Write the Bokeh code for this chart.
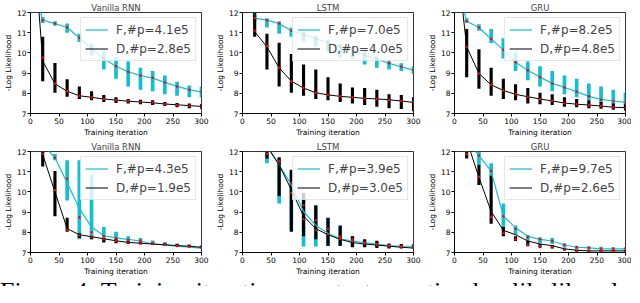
from bokeh.plotting import figure
from bokeh.models import Range1d, FixedTicker, Legend, LegendItem, Div
from bokeh.layouts import column, row
from bokeh.embed import file_html
from bokeh.resources import INLINE

# ---------------- data ----------------
iters = [21.4, 42.9, 64.3, 85.7, 107.1, 128.6, 150.0, 171.4, 192.9, 214.3, 235.7, 257.1, 278.6, 300.0]
line_iters = [0.0] + iters
x_ticks = [0, 50, 100, 150, 200, 250, 300]
y_ticks = [7, 8, 9, 10, 11, 12]

titles = ["Vanilla RNN", "LSTM", "GRU", "Vanilla RNN", "LSTM", "GRU"]
f_labels = ["F,#p=4.1e5", "F,#p=7.0e5", "F,#p=8.2e5", "F,#p=4.3e5", "F,#p=3.9e5", "F,#p=9.7e5"]
d_labels = ["D,#p=2.8e5", "D,#p=4.0e5", "D,#p=4.8e5", "D,#p=1.9e5", "D,#p=3.0e5", "D,#p=2.6e5"]

# Panel 1: Vanilla RNN (top)
rnn1_f_line = [13.8, 11.62, 11.45, 11.26, 10.75, 10.22, 9.72, 9.34, 9.06, 8.88, 8.75, 8.54, 8.34, 8.18, 8.06]
rnn1_f_med = [11.62, 11.45, 11.26, 10.75, 10.22, 9.72, 9.34, 9.06, 8.88, 8.77, 8.54, 8.34, 8.18, 8.08]
rnn1_f_lo = [11.48, 11.34, 11.0, 10.54, 9.88, 9.18, 8.72, 8.34, 8.18, 8.1, 7.95, 7.88, 7.8, 7.8]
rnn1_f_hi = [11.78, 11.57, 11.46, 10.95, 10.45, 10.1, 9.8, 9.57, 9.26, 9.1, 8.88, 8.57, 8.38, 8.34]
rnn1_d_line = [17.6, 9.6, 8.47, 8.1, 7.88, 7.8, 7.72, 7.66, 7.61, 7.57, 7.53, 7.47, 7.43, 7.39, 7.35]
rnn1_d_med = [9.77, 8.49, 8.1, 7.88, 7.8, 7.72, 7.65, 7.62, 7.57, 7.54, 7.46, 7.42, 7.38, 7.34]
rnn1_d_lo = [8.6, 8.03, 7.83, 7.72, 7.65, 7.57, 7.52, 7.49, 7.46, 7.42, 7.37, 7.31, 7.26, 7.23]
rnn1_d_hi = [10.8, 9.5, 8.69, 8.34, 8.1, 7.92, 7.8, 7.72, 7.68, 7.65, 7.57, 7.52, 7.49, 7.46]

# Panel 2: LSTM (top)
lstm1_f_line = [30.0, 11.72, 11.62, 11.45, 11.1, 10.9, 10.7, 10.5, 10.3, 10.1, 9.88, 9.68, 9.49, 9.31, 9.15]
lstm1_f_med = [11.72, 11.62, 11.45, 11.1, 10.9, 10.7, 10.5, 10.3, 10.1, 9.88, 9.68, 9.49, 9.31, 9.15]
lstm1_f_lo = [11.57, 11.26, 10.95, 10.8, 10.55, 10.3, 10.05, 9.75, 9.72, 9.42, 9.26, 9.18, 9.1, 8.95]
lstm1_f_hi = [11.88, 11.72, 11.57, 11.26, 11.05, 10.85, 10.65, 10.45, 10.25, 10.1, 9.88, 9.65, 9.49, 9.34]
lstm1_d_line = [30.0, 11.05, 10.3, 9.26, 8.6, 8.26, 8.03, 7.92, 7.85, 7.8, 7.75, 7.72, 7.68, 7.62, 7.55]
lstm1_d_med = [11.1, 10.34, 9.26, 8.6, 8.26, 8.03, 7.92, 7.85, 7.8, 7.75, 7.72, 7.68, 7.62, 7.57]
lstm1_d_lo = [10.8, 9.18, 8.34, 8.03, 7.88, 7.72, 7.65, 7.57, 7.49, 7.42, 7.34, 7.26, 7.22, 7.11]
lstm1_d_hi = [12.1, 10.95, 10.5, 9.95, 9.42, 9.18, 8.8, 8.49, 8.29, 8.26, 8.18, 7.95, 7.92, 7.8]

# Panel 3: GRU (top)
gru1_f_line = [13.9, 11.57, 11.26, 10.69, 10.15, 9.54, 9.14, 8.8, 8.49, 8.29, 8.08, 7.85, 7.7, 7.62, 7.55]
gru1_f_med = [11.57, 11.26, 10.69, 10.15, 9.54, 9.14, 8.8, 8.49, 8.29, 8.08, 7.85, 7.68, 7.62, 7.52]
gru1_f_lo = [11.49, 11.1, 10.49, 9.72, 9.1, 8.65, 8.34, 8.1, 7.95, 7.8, 7.65, 7.52, 7.46, 7.37]
gru1_f_hi = [11.72, 11.42, 11.18, 10.72, 10.03, 9.57, 9.34, 9.1, 8.88, 8.72, 8.49, 8.34, 8.18, 8.03]
gru1_d_line = [15.7, 10.3, 8.98, 8.42, 8.14, 7.95, 7.83, 7.72, 7.62, 7.52, 7.46, 7.42, 7.37, 7.31, 7.29]
gru1_d_med = [10.29, 8.98, 8.42, 8.14, 7.95, 7.83, 7.72, 7.62, 7.52, 7.46, 7.42, 7.37, 7.31, 7.29]
gru1_d_lo = [8.8, 8.23, 7.88, 7.72, 7.65, 7.49, 7.46, 7.42, 7.34, 7.31, 7.26, 7.23, 7.18, 7.15]
gru1_d_hi = [11.18, 10.18, 9.26, 8.72, 8.45, 8.26, 8.03, 7.95, 7.8, 7.72, 7.65, 7.57, 7.49, 7.46]

# Panel 4: Vanilla RNN (bottom)
rnn2_f_line = [13.5, 12.37, 11.69, 10.45, 9.18, 8.26, 7.83, 7.72, 7.65, 7.57, 7.42, 7.38, 7.32, 7.27, 7.22]
rnn2_f_med = [12.37, 11.69, 10.65, 8.75, 8.0, 7.8, 7.7, 7.63, 7.6, 7.45, 7.38, 7.32, 7.27, 7.22]
rnn2_f_lo = [12.2, 11.57, 9.57, 7.65, 7.65, 7.57, 7.57, 7.49, 7.42, 7.37, 7.33, 7.27, 7.23, 7.18]
rnn2_f_hi = [12.6, 11.88, 11.57, 11.57, 10.85, 8.26, 8.03, 7.8, 7.72, 7.6, 7.52, 7.45, 7.4, 7.35]
rnn2_d_line = [20.0, 11.85, 10.0, 8.18, 7.88, 7.78, 7.68, 7.58, 7.5, 7.46, 7.42, 7.38, 7.34, 7.31, 7.26]
rnn2_d_med = [11.88, 10.1, 8.12, 7.85, 7.75, 7.65, 7.57, 7.49, 7.46, 7.42, 7.38, 7.34, 7.31, 7.26]
rnn2_d_lo = [11.26, 8.8, 8.03, 7.72, 7.65, 7.49, 7.46, 7.42, 7.4, 7.37, 7.34, 7.31, 7.28, 7.23]
rnn2_d_hi = [12.03, 11.03, 8.72, 7.95, 7.83, 7.72, 7.65, 7.57, 7.55, 7.49, 7.46, 7.42, 7.38, 7.34]

# Panel 5: LSTM (bottom)
lstm2_f_line = [13.5, 12.6, 12.26, 11.34, 10.34, 9.03, 8.34, 7.95, 7.68, 7.57, 7.49, 7.42, 7.34, 7.31, 7.31]
lstm2_f_med = [12.2, 11.88, 11.52, 10.45, 9.34, 8.6, 8.18, 7.8, 7.65, 7.49, 7.42, 7.36, 7.31, 7.3]
lstm2_f_lo = [12.0, 11.42, 9.42, 8.1, 7.3, 7.3, 7.32, 7.32, 7.3, 7.3, 7.28, 7.26, 7.26, 7.24]
lstm2_f_hi = [12.3, 11.95, 11.65, 11.05, 9.9, 9.3, 8.7, 8.3, 7.8, 7.62, 7.52, 7.42, 7.38, 7.38]
lstm2_d_line = [13.5, 12.8, 12.26, 11.34, 10.1, 8.8, 8.18, 7.88, 7.65, 7.49, 7.42, 7.37, 7.31, 7.26, 7.22]
lstm2_d_med = [12.2, 11.88, 11.52, 9.95, 8.65, 8.1, 7.9, 7.68, 7.55, 7.45, 7.38, 7.32, 7.28, 7.24]
lstm2_d_lo = [12.0, 11.65, 9.8, 8.03, 7.8, 7.65, 7.34, 7.34, 7.26, 7.26, 7.22, 7.2, 7.2, 7.18]
lstm2_d_hi = [12.3, 12.03, 11.72, 11.1, 9.95, 9.34, 8.72, 8.34, 7.8, 7.65, 7.58, 7.45, 7.42, 7.4]

# Panel 6: GRU (bottom)
gru2_f_line = [13.5, 12.5, 11.8, 11.03, 8.8, 8.23, 7.8, 7.65, 7.57, 7.37, 7.26, 7.23, 7.18, 7.18, 7.18]
gru2_f_med = [12.5, 11.8, 11.03, 8.8, 8.18, 7.75, 7.65, 7.57, 7.37, 7.26, 7.23, 7.18, 7.18, 7.18]
gru2_f_lo = [12.3, 11.34, 10.72, 8.18, 7.88, 7.57, 7.46, 7.42, 7.23, 7.15, 7.15, 7.15, 7.12, 7.12]
gru2_f_hi = [12.7, 12.03, 11.42, 9.42, 8.34, 7.88, 7.75, 7.72, 7.46, 7.34, 7.31, 7.28, 7.26, 7.26]
gru2_d_line = [13.5, 12.56, 10.72, 9.03, 8.1, 7.88, 7.57, 7.42, 7.34, 7.18, 7.11, 7.08, 7.08, 7.08, 7.08]
gru2_d_med = [11.88, 10.75, 8.77, 7.95, 7.65, 7.38, 7.31, 7.26, 7.14, 7.08, 7.08, 7.08, 7.08, 7.08]
gru2_d_lo = [11.65, 10.34, 8.42, 7.8, 7.57, 7.31, 7.23, 7.2, 7.1, 7.05, 7.05, 7.05, 7.05, 7.05]
gru2_d_hi = [12.03, 11.34, 10.8, 8.26, 7.8, 7.57, 7.42, 7.37, 7.2, 7.14, 7.13, 7.12, 7.12, 7.12]

caption = "Figure 4: Training iterations vs. test negative log likelihood"

# ---------------- style ----------------
CYAN = "#17becf"
FONT = "DejaVu Sans"
ROW_H = 139


def make_panel(title, f_label, d_label, f_line, f_med, f_lo, f_hi,
               d_line, d_med, d_lo, d_hi, width, border_right):
    p = figure(width=width, height=ROW_H, output_backend="svg", toolbar_location=None,
               x_range=Range1d(0, 300), y_range=Range1d(7, 12),
               min_border_left=22, min_border_right=border_right,
               min_border_top=0, min_border_bottom=0)
    p.title.text = title
    p.title.align = "center"
    p.title.text_font = FONT
    p.title.text_font_size = "8.5px"
    p.title.text_font_style = "normal"
    p.title.standoff = 0
    p.title.offset = 0
    p.grid.visible = False
    p.outline_line_color = "black"
    p.outline_line_alpha = 1
    p.outline_line_width = 0.8

    for ax in (p.xaxis[0], p.yaxis[0]):
        ax.axis_line_color = "black"
        ax.axis_line_width = 0.8
        ax.major_tick_line_color = "black"
        ax.major_tick_in = 0
        ax.major_tick_out = 3
        ax.minor_tick_line_color = None
        ax.major_label_text_font = FONT
        ax.major_label_text_font_size = "7.5px"
        ax.major_label_text_color = "black"
        ax.major_label_standoff = 1
        ax.axis_label_text_font = FONT
        ax.axis_label_text_font_size = "7.5px"
        ax.axis_label_text_font_style = "normal"
        ax.axis_label_text_color = "black"
        ax.axis_label_standoff = 1
    p.xaxis[0].ticker = FixedTicker(ticks=x_ticks)
    p.yaxis[0].ticker = FixedTicker(ticks=y_ticks)
    p.xaxis[0].axis_label = "Training iteration"
    p.yaxis[0].axis_label = "-Log Likelihood"

    p.vbar(x=iters, bottom=f_lo, top=f_hi, width=6.5, fill_color=CYAN, line_color=None)
    p.vbar(x=iters, bottom=d_lo, top=d_hi, width=5.5, fill_color="black", line_color=None)
    fl = p.line(line_iters, f_line, line_color=CYAN, line_width=1.2)
    dl = p.line(line_iters, d_line, line_color="black", line_width=1.0)
    p.scatter(iters, f_med, size=2.5, fill_color="red", line_color=None)
    p.scatter(iters, d_med, size=2.5, fill_color="red", line_color=None)

    legend = Legend(items=[LegendItem(label=f_label, renderers=[fl]),
                           LegendItem(label=d_label, renderers=[dl])],
                    location="top_right")
    legend.label_text_font = FONT
    legend.label_text_font_size = "12px"
    legend.label_height = 15
    legend.glyph_height = 15
    legend.glyph_width = 23
    legend.label_standoff = 8
    legend.spacing = 4
    legend.padding = 4
    legend.margin = 5
    legend.border_line_color = "#cccccc"
    legend.border_line_width = 0.8
    legend.background_fill_alpha = 0.8
    p.add_layout(legend)
    return p


p1 = make_panel(titles[0], f_labels[0], d_labels[0], rnn1_f_line, rnn1_f_med, rnn1_f_lo, rnn1_f_hi,
                rnn1_d_line, rnn1_d_med, rnn1_d_lo, rnn1_d_hi, 212, 11)
p2 = make_panel(titles[1], f_labels[1], d_labels[1], lstm1_f_line, lstm1_f_med, lstm1_f_lo, lstm1_f_hi,
                lstm1_d_line, lstm1_d_med, lstm1_d_lo, lstm1_d_hi, 212, 11)
p3 = make_panel(titles[2], f_labels[2], d_labels[2], gru1_f_line, gru1_f_med, gru1_f_lo, gru1_f_hi,
                gru1_d_line, gru1_d_med, gru1_d_lo, gru1_d_hi, 207, 6)
p4 = make_panel(titles[3], f_labels[3], d_labels[3], rnn2_f_line, rnn2_f_med, rnn2_f_lo, rnn2_f_hi,
                rnn2_d_line, rnn2_d_med, rnn2_d_lo, rnn2_d_hi, 212, 11)
p5 = make_panel(titles[4], f_labels[4], d_labels[4], lstm2_f_line, lstm2_f_med, lstm2_f_lo, lstm2_f_hi,
                lstm2_d_line, lstm2_d_med, lstm2_d_lo, lstm2_d_hi, 212, 11)
p6 = make_panel(titles[5], f_labels[5], d_labels[5], gru2_f_line, gru2_f_med, gru2_f_lo, gru2_f_hi,
                gru2_d_line, gru2_d_med, gru2_d_lo, gru2_d_hi, 207, 6)

# caption strip: only the top of the (cut-off) caption line is visible, as in the reference
cap_html = ('<div style="height:8px;overflow:hidden;white-space:nowrap;margin:0;padding:0;'
            'font-family:\'Liberation Serif\',serif;font-size:26px;line-height:19px;color:black;">'
            + caption + '</div>')
cap = Div(text=cap_html, width=631, height=8, styles={"overflow": "hidden", "margin": "0"})

layout = column(row(p1, p2, p3), row(p4, p5, p6), cap)

open("out.html", "w").write(file_html(layout, INLINE))
